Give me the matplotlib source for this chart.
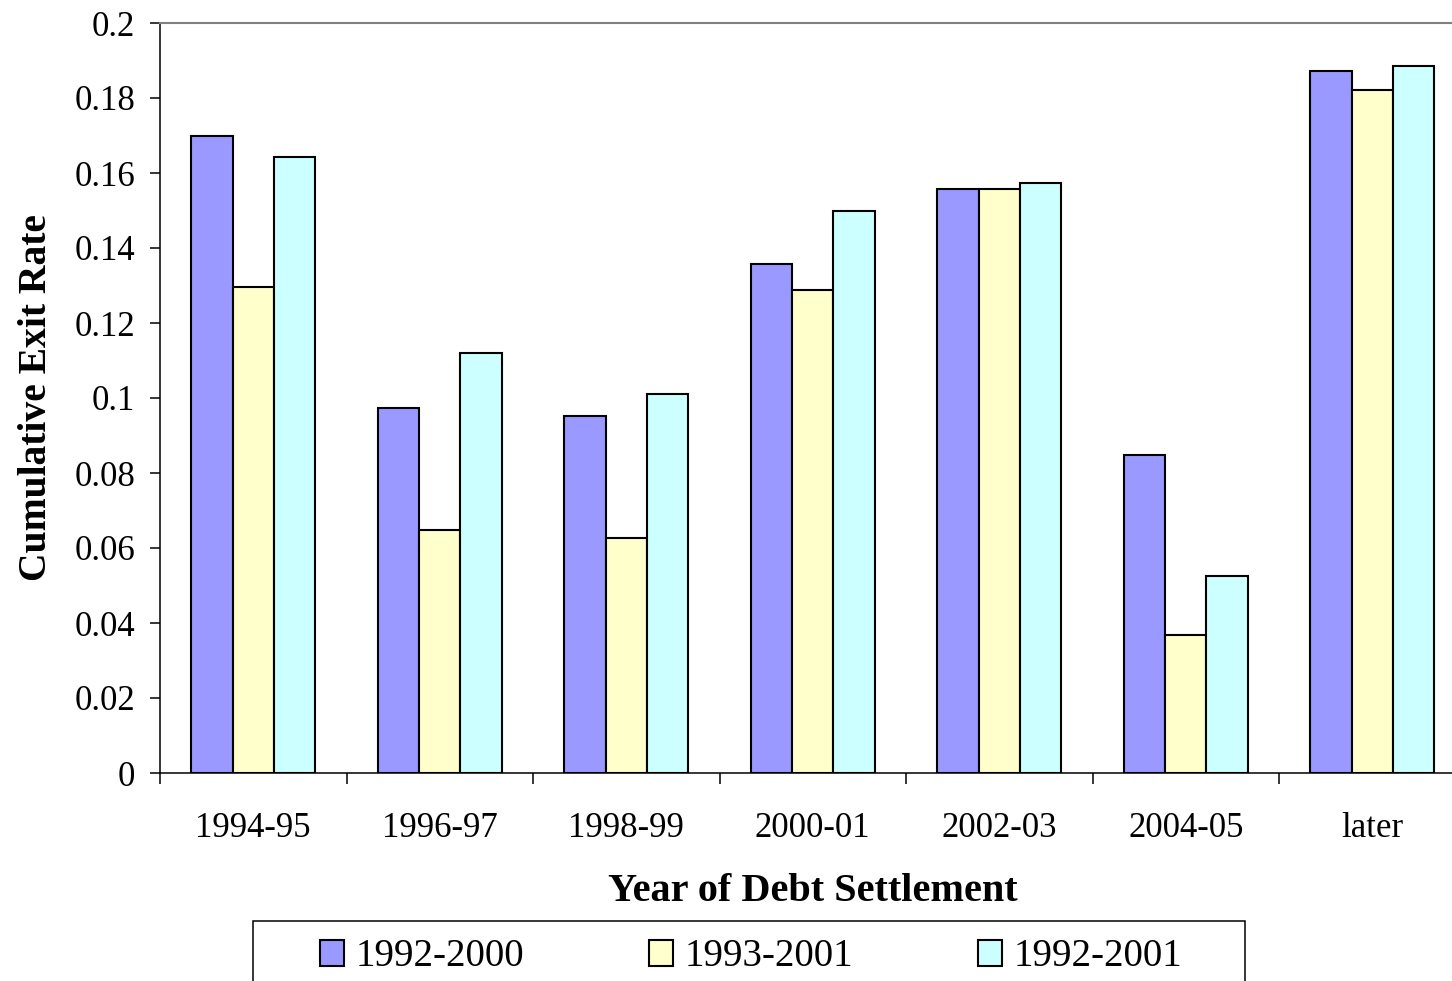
import numpy as np
import matplotlib
matplotlib.use("Agg")
import matplotlib.pyplot as plt
from matplotlib.patches import Rectangle

plt.rcParams["font.family"] = ["Liberation Serif", "DejaVu Serif"]

periods = ["1994-95", "1996-97", "1998-99", "2000-01", "2002-03", "2004-05", "later"]
series_names = ["1992-2000", "1993-2001", "1992-2001"]
rate_1992_2000 = [0.170, 0.0973, 0.0952, 0.1357, 0.1557, 0.0848, 0.1872]
rate_1993_2001 = [0.1296, 0.0648, 0.0627, 0.1288, 0.1557, 0.0368, 0.1821]
rate_1992_2001 = [0.1643, 0.112, 0.1011, 0.1499, 0.1573, 0.0525, 0.1885]
colors = ["#9999FF", "#FFFFCC", "#CCFFFF"]

W, H = 1452, 981
fig = plt.figure(figsize=(W / 100, H / 100), dpi=100)
# plot area runs a little past the right edge of the figure
ax = fig.add_axes([160 / W, 1 - 773 / H, (1465.5 - 160) / W, (773 - 23) / H])

x = np.arange(len(periods))
bar_w = 0.2225
for i, (vals, name, col) in enumerate(zip(
        [rate_1992_2000, rate_1993_2001, rate_1992_2001], series_names, colors)):
    ax.bar(x + (i - 1) * bar_w, vals, width=bar_w, color=col,
           edgecolor="black", linewidth=1.5, label=name, zorder=3)

ax.set_xlim(-0.5, len(periods) - 0.5)
ax.set_ylim(0, 0.2)
ax.set_yticks(np.arange(0, 0.2001, 0.02))
ax.set_yticklabels([f"{v:g}" for v in np.round(np.arange(0, 0.2001, 0.02), 2)])
ax.set_xticks(x)
ax.set_xticklabels(periods)
ax.set_xticks(np.arange(-0.5, len(periods), 1), minor=True)

ax.tick_params(axis="y", direction="out", length=7, width=1.1, pad=11,
               labelsize=25, colors="black")
ax.tick_params(axis="x", which="major", length=0, pad=28, labelsize=25)
ax.tick_params(axis="x", which="minor", direction="out", length=8, width=1.1)

for side in ["left", "bottom"]:
    ax.spines[side].set_linewidth(1.1)
ax.spines["top"].set_color("#808080")
ax.spines["top"].set_linewidth(1.5)
ax.spines["right"].set_visible(False)

ax.set_ylabel("Cumulative Exit Rate", fontsize=28.5, fontweight="bold", labelpad=14)
ax.set_xlabel("Year of Debt Settlement", fontsize=29, fontweight="bold", labelpad=20)

# legend box drawn separately so its padding can be wider than tall
fig.patches.append(Rectangle((253 / W, -0.05), (1245 - 253) / W, 0.05 + 1 - 921 / H,
                             transform=fig.transFigure, facecolor="white",
                             edgecolor="black", linewidth=1.1))
fig.legend(loc="center", bbox_to_anchor=(751 / W, 1 - 957 / H), ncol=3,
           frameon=False, fontsize=28, handlelength=0.62, handleheight=0.67,
           handletextpad=0.3, columnspacing=3.2)

fig.savefig("out.png", dpi=100)
